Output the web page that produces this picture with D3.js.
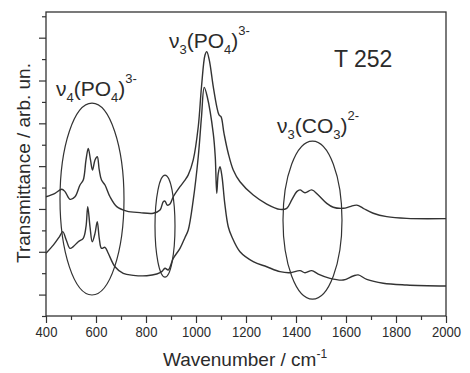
<!DOCTYPE html>
<html><head><meta charset="utf-8">
<script src="https://cdn.jsdelivr.net/npm/d3@7"></script>
<style>
body{margin:0;background:#fff}
svg{display:block}
text{font-family:"Liberation Sans",Arial,Helvetica,sans-serif;fill:#2b2b2b}
</style>
</head><body>
<svg id="c" width="470" height="373"></svg>
<script>
// ---- data ----
const upperWn = [400,436,463,476,496,516,536,549,560,569,578,586,596,605,613,622,636,656,683,723,776,829,856,869,876,885,896,909,936,956,969,989,1009,1022,1036,1043,1053,1069,1083,1092,1100,1112,1129,1149,1176,1229,1283,1336,1363,1383,1403,1416,1436,1463,1489,1523,1549,1589,1616,1643,1669,1709,1763,1843,2000];
const upperT  = [5.57,5.73,5.92,5.81,5.45,5.57,6.12,6.35,7.29,7.83,7.29,6.82,7.29,7.44,6.82,6.35,6.12,5.57,5.11,4.90,4.83,4.80,4.95,5.34,5.37,5.18,5.23,5.57,6.04,6.35,6.59,7.29,8.84,10.71,12.19,12.35,11.96,10.71,9.78,9.39,9.31,8.53,7.60,6.82,6.27,5.65,5.23,4.98,5.03,5.42,5.81,5.89,5.76,5.89,5.65,5.26,5.08,5.03,5.11,5.18,5.03,4.80,4.64,4.56,4.55];
const lowerWn = [400,430,454,467,481,496,509,529,549,560,567,576,585,596,605,613,622,636,649,676,709,749,803,843,863,876,889,909,936,956,969,989,1009,1022,1033,1045,1069,1077,1083,1089,1096,1104,1115,1129,1143,1176,1229,1283,1336,1376,1416,1436,1463,1489,1536,1589,1629,1649,1683,1749,1843,2000];
const lowerT  = [2.93,3.32,3.71,3.94,3.55,3.16,3.24,3.47,3.63,4.17,5.11,4.17,3.47,3.86,4.41,3.63,3.16,3.21,2.93,2.30,1.99,1.90,1.88,1.96,2.07,2.23,2.15,2.69,3.16,3.67,4.02,5.42,7.44,9.31,10.68,10.24,8.53,7.44,5.73,6.66,6.97,6.51,5.26,4.17,3.71,3.00,2.54,2.30,2.07,2.02,2.12,2.02,2.12,1.96,1.76,1.68,1.87,1.92,1.71,1.53,1.45,1.40];
const ellipseCx = [584, 876, 1466];
const ellipseRx = [128, 40, 118];
const ellipseCy = [5.46, 4.20, 4.48];
const ellipseRy = [4.48, 2.38, 3.69];
const xMajorTicks = [400,600,800,1000,1200,1400,1600,1800,2000];
const xMinorTicks = [500,700,900,1100,1300,1500,1700,1900];
const yMajorTicks = [1,3,5,7,9,11,13];
const yMinorTicks = [0,2,4,6,8,10,12,14];

// ---- layout ----
const svg = d3.select("#c");
const L = 46, R = 446, T = 12, B = 316;
const x = d3.scaleLinear().domain([400, 2000]).range([L, R]);
const y = d3.scaleLinear().domain([0, 14.2]).range([B, T]);
const ink = "#333";

// axes
const gx = svg.append("g").attr("transform", `translate(0,${B})`)
  .call(d3.axisBottom(x).tickValues(xMajorTicks).tickSize(7).tickPadding(3).tickFormat(d3.format("d")));
gx.select(".domain").remove();
gx.selectAll("line").attr("stroke", ink).attr("stroke-width", 1.2);
gx.selectAll("text").attr("font-size", 15).attr("fill", "#2b2b2b")
  .attr("font-family", '"Liberation Sans",Arial,sans-serif').attr("transform", "scale(0.87,1)");
const gx2 = svg.append("g").attr("transform", `translate(0,${B})`)
  .call(d3.axisBottom(x).tickValues(xMinorTicks).tickSize(4).tickFormat(""));
gx2.select(".domain").remove();
gx2.selectAll("line").attr("stroke", ink).attr("stroke-width", 1.2);

const gy = svg.append("g").attr("transform", `translate(${L},0)`)
  .call(d3.axisLeft(y).tickValues(yMajorTicks).tickSize(7).tickFormat(""));
gy.select(".domain").remove();
gy.selectAll("line").attr("stroke", ink).attr("stroke-width", 1.2);
const gy2 = svg.append("g").attr("transform", `translate(${L},0)`)
  .call(d3.axisLeft(y).tickValues(yMinorTicks).tickSize(4).tickFormat(""));
gy2.select(".domain").remove();
gy2.selectAll("line").attr("stroke", ink).attr("stroke-width", 1.2);

// frame
svg.append("rect").attr("x", L).attr("y", T).attr("width", R - L).attr("height", B - T)
  .attr("fill", "none").attr("stroke", ink).attr("stroke-width", 1.3);

// curves
const line = d3.line().x(d => x(d[0])).y(d => y(d[1])).curve(d3.curveCatmullRom.alpha(0.5));
[[upperWn, upperT], [lowerWn, lowerT]].forEach(([w, t]) => {
  svg.append("path").datum(w.map((v, i) => [v, t[i]]))
    .attr("d", line).attr("fill", "none").attr("stroke", ink).attr("stroke-width", 1.4);
});

// ellipses
ellipseCx.forEach((c, i) => {
  svg.append("ellipse")
    .attr("cx", x(c)).attr("cy", y(ellipseCy[i]))
    .attr("rx", x(c + ellipseRx[i]) - x(c)).attr("ry", y(0) - y(ellipseRy[i]))
    .attr("fill", "none").attr("stroke", ink).attr("stroke-width", 1.2);
});

// annotations
function annot(px, py, parts, size) {
  const t = svg.append("text").attr("x", px).attr("y", py).attr("font-size", size);
  let shift = 0;
  parts.forEach(p => {
    let target = 0, fs = size;
    if (p.sub) { target = size * 0.28; fs = size * 0.62; }
    if (p.sup) { target = -size * 0.6; fs = size * 0.62; }
    t.append("tspan").attr("dy", target - shift).attr("font-size", fs).text(p.t);
    shift = target;
  });
}
annot(56, 96, [{t:"ν"},{t:"4",sub:1},{t:"(PO"},{t:"4",sub:1},{t:")"},{t:"3-",sup:1}], 21);
annot(169, 48, [{t:"ν"},{t:"3",sub:1},{t:"(PO"},{t:"4",sub:1},{t:")"},{t:"3-",sup:1}], 21);
annot(277, 133, [{t:"ν"},{t:"3",sub:1},{t:"(CO"},{t:"3",sub:1},{t:")"},{t:"2-",sup:1}], 21);
svg.append("text").attr("x", 334).attr("y", 67).attr("font-size", 23).text("T 252");

// axis titles
const xl = svg.append("text").attr("x", 245).attr("y", 366).attr("text-anchor", "middle").attr("font-size", 19);
xl.append("tspan").text("Wavenumber / cm");
xl.append("tspan").attr("dy", -8).attr("font-size", 12).text("-1");
svg.append("text").attr("transform", "translate(30,163) rotate(-90)")
  .attr("text-anchor", "middle").attr("font-size", 19).text("Transmittance / arb. un.");
</script>
</body></html>
